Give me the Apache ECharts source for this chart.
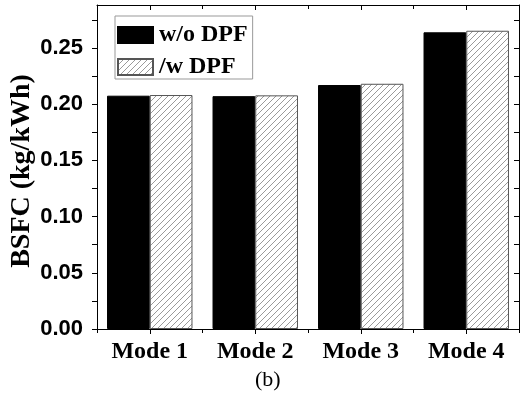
<!DOCTYPE html>
<html>
<head>
<meta charset="utf-8">
<script src="https://cdn.jsdelivr.net/npm/echarts@6/dist/echarts.min.js"></script>
<style>html,body{margin:0;padding:0;background:#fff}#c{width:523px;height:403px}</style>
</head>
<body>
<div id="c"></div>
<script>
var categories = ['Mode 1', 'Mode 2', 'Mode 3', 'Mode 4'];
var seriesNames = ['w/o DPF', '/w DPF'];
var withoutDPF = [0.2076, 0.2072, 0.2171, 0.2640];
var withDPF = [0.2082, 0.2079, 0.2182, 0.2654];
var yTickLabels = ['0.00', '0.05', '0.10', '0.15', '0.20', '0.25'];
var yAxisName = 'BSFC (kg/kWh)';
var caption = '(b)';

function hatch() {
  var s = 6, c = document.createElement('canvas');
  c.width = s; c.height = s;
  var g = c.getContext('2d');
  g.fillStyle = '#fff'; g.fillRect(0, 0, s, s);
  g.strokeStyle = '#9a9a9a'; g.lineWidth = 1;
  g.beginPath();
  g.moveTo(-1, s + 1); g.lineTo(s + 1, -1);
  g.moveTo(-1, 1); g.lineTo(1, -1);
  g.moveTo(s - 1, s + 1); g.lineTo(s + 1, s - 1);
  g.stroke();
  return c;
}

var chart = echarts.init(document.getElementById('c'), null, {renderer: 'canvas'});
var yMin = 0, yMax = 0.2883;
function yLab(v) {
  var k = Math.round(v / 0.05 * 1000) / 1000;
  if (Math.abs(k - Math.round(k)) < 1e-6) return yTickLabels[Math.round(k)] || '';
  return '';
}
var serifBold = {fontFamily: 'Liberation Serif', fontWeight: 'bold', color: '#000'};
var option = {
  animation: false,
  backgroundColor: '#fff',
  grid: {left: 97, top: 5, right: 4, bottom: 74, containLabel: false, outerBoundsMode: 'none'},
  legend: {
    orient: 'vertical', left: 115, top: 16,
    padding: [7, 5, 0, 2],
    itemWidth: 35, itemHeight: 16, itemGap: 8,
    icon: 'rect',
    borderColor: '#999', borderWidth: 1,
    textStyle: Object.assign({fontSize: 24, padding: [0, 0, 0, 1]}, serifBold),
    data: seriesNames
  },
  xAxis: [
    {type: 'category', data: categories, position: 'bottom', offset: 0,
     axisLine: {show: true, lineStyle: {color: '#000', width: 1}},
     axisTick: {show: true, alignWithLabel: true, inside: false, length: 5, lineStyle: {color: '#000'}},
     axisLabel: Object.assign({fontSize: 24, margin: 11}, serifBold)},
    {type: 'category', data: categories, position: 'bottom', offset: 0,
     axisLine: {show: false},
     axisTick: {show: true, alignWithLabel: false, inside: false, length: 4, lineStyle: {color: '#000'}},
     axisLabel: {show: false}},
    {type: 'category', data: categories, position: 'top', offset: 0,
     axisLine: {show: true, lineStyle: {color: '#000', width: 1}},
     axisTick: {show: true, alignWithLabel: true, inside: true, length: 5, lineStyle: {color: '#000'}},
     axisLabel: {show: false}},
    {type: 'category', data: categories, position: 'top', offset: 0,
     axisLine: {show: false},
     axisTick: {show: true, alignWithLabel: false, inside: true, length: 4, lineStyle: {color: '#000'}},
     axisLabel: {show: false}}
  ],
  yAxis: [
    {type: 'value', min: yMin, max: yMax, interval: 0.025, position: 'left', offset: 0,
     splitLine: {show: false},
     axisLine: {show: true, lineStyle: {color: '#000', width: 1}},
     axisTick: {show: true, inside: false, length: 5, lineStyle: {color: '#000'}},
     axisLabel: {formatter: yLab, fontFamily: 'Liberation Sans', fontWeight: 'bold', fontSize: 22, color: '#000', margin: 14,
                 showMaxLabel: false}},
    {type: 'value', min: yMin, max: yMax, interval: 0.025, position: 'right', offset: 0,
     splitLine: {show: false},
     axisLine: {show: true, lineStyle: {color: '#000', width: 1}},
     axisTick: {show: true, inside: true, length: 5, lineStyle: {color: '#000'}},
     axisLabel: {show: false}}
  ],
  series: [
    {name: seriesNames[0], type: 'bar', data: withoutDPF, xAxisIndex: 0, yAxisIndex: 0,
     barGap: '0%', barCategoryGap: '19%',
     itemStyle: {color: '#000', borderColor: '#000', borderWidth: 1}},
    {name: seriesNames[1], type: 'bar', data: withDPF, xAxisIndex: 0, yAxisIndex: 0,
     barGap: '0%', barCategoryGap: '19%',
     itemStyle: {color: {image: hatch(), repeat: 'repeat'}, borderColor: '#555', borderWidth: 1}}
  ],
  graphic: [
    {type: 'text', x: 22, y: 171, rotation: Math.PI / 2,
     style: {text: yAxisName, fontFamily: 'Liberation Serif', fontWeight: 'bold', fontSize: 28, fill: '#000',
             align: 'center', verticalAlign: 'middle'}},
    {type: 'text', left: 255, top: 369,
     style: {text: caption, fontFamily: 'Liberation Serif', fontSize: 22, fill: '#000'}}
  ]
};
chart.setOption(option);
</script>
</body>
</html>
